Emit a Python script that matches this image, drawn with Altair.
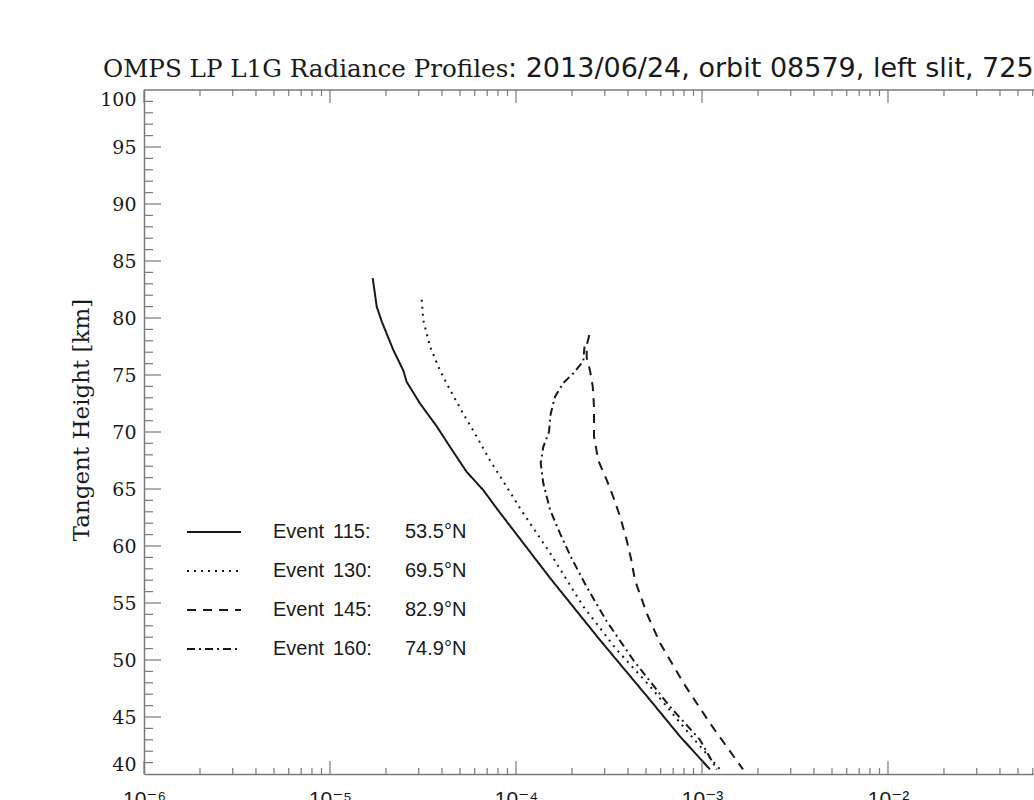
import altair as alt
import pandas as pd

# ---------------- data ----------------
ev115_rad = [1.697e-5, 1.783e-5, 1.897e-5, 2.189e-5, 2.477e-5, 2.584e-5, 3.048e-5, 3.747e-5,
             4.417e-5, 5.430e-5, 6.672e-5, 7.873e-5, 1.523e-4, 2.829e-4, 5.253e-4, 7.614e-4, 1.104e-3]
ev115_h = [83.5, 81.0, 79.7, 77.2, 75.4, 74.4, 72.5, 70.5,
           68.7, 66.5, 64.9, 63.3, 57.2, 51.75, 46.5, 43.3, 40.4]

ev130_rad = [3.112e-5, 3.174e-5, 3.448e-5, 3.903e-5, 4.417e-5, 5.208e-5, 6.147e-5, 7.248e-5,
             8.913e-5, 1.051e-4, 1.523e-4, 2.300e-4, 3.479e-4, 5.253e-4, 7.933e-4, 1.250e-3]
ev130_h = [81.6, 79.8, 77.5, 75.4, 73.7, 71.6, 69.6, 67.5,
           65.2, 63.3, 59.4, 54.7, 50.9, 47.7, 44.15, 40.4]

ev145_rad = [2.478e-4, 2.400e-4, 2.400e-4, 2.499e-4, 2.585e-4, 2.627e-4, 2.627e-4, 2.770e-4,
             3.073e-4, 3.335e-4, 3.624e-4, 3.937e-4, 4.152e-4, 4.363e-4, 5.043e-4, 5.946e-4,
             7.933e-4, 1.104e-3, 1.661e-3]
ev145_h = [78.5, 77.6, 76.5, 75.4, 74.0, 72.2, 69.6, 67.5,
           65.8, 64.3, 62.6, 60.5, 58.9, 57.0, 54.1, 51.5,
           48.0, 44.45, 40.4]

ev160_rad = [2.335e-4, 2.300e-4, 2.033e-4, 1.796e-4, 1.621e-4, 1.537e-4, 1.504e-4, 1.402e-4,
             1.358e-4, 1.402e-4, 1.523e-4, 1.724e-4, 1.993e-4, 2.400e-4, 3.073e-4, 4.272e-4,
             6.730e-4, 9.754e-4, 1.200e-3]
ev160_h = [77.5, 76.2, 75.15, 74.3, 73.1, 71.6, 70.0, 68.7,
           67.25, 65.5, 63.2, 61.1, 58.9, 56.4, 53.4, 50.0,
           45.9, 43.0, 40.4]

events = ["Event 115", "Event 130", "Event 145", "Event 160"]
event_nums = ["115:", "130:", "145:", "160:"]
event_lats = ["53.5°N", "69.5°N", "82.9°N", "74.9°N"]
dash_styles = [[1, 0], [2, 5], [9, 7], [8, 4, 2, 4]]

title_serif = "OMPS LP L1G Radiance Profiles"
title_sans = ": 2013/06/24, orbit 08579, left slit, 725 nm"
y_title = "Tangent Height [km]"

x_major = [1e-6, 1e-5, 1e-4, 1e-3, 1e-2]
x_labels = ["10⁻⁶", "10⁻⁵", "10⁻⁴", "10⁻³", "10⁻²"]
y_major = [40, 45, 50, 55, 60, 65, 70, 75, 80, 85, 90, 95, 100]

# ---------------- layout ----------------
W, H = 890, 684
XMIN, XMAX = 1e-6, 10 ** -1.215
GRAY = "#7a7a7a"
INK = "#1a1a1a"

x_minor = [m * 10.0 ** k for k in range(-6, -1) for m in range(2, 10) if m * 10.0 ** k <= XMAX]
y_minor = [v for v in range(41, 100) if v % 5 != 0]
y_major_ticks = [v for v in y_major if 40 < v < 100]

rows = []
for name, r, h in zip(events, [ev115_rad, ev130_rad, ev145_rad, ev160_rad],
                      [ev115_h, ev130_h, ev145_h, ev160_h]):
    for i, (a, b) in enumerate(zip(r, h)):
        rows.append({"event": name, "rad": a, "h": b, "i": i})
df = pd.DataFrame(rows)

xscale = alt.Scale(type="log", domain=[XMIN, XMAX], nice=False)
yscale = alt.Scale(domain=[40, 100], nice=False, zero=False)

label_expr = " : ".join(
    f"datum.value < {v * 3:g} ? '{lab}'" for v, lab in zip(x_major[:-1], x_labels[:-1])
) + f" : '{x_labels[-1]}'"

x_axis = alt.Axis(values=x_major, labelExpr=label_expr, ticks=False, grid=False,
                  domainColor=GRAY, domainWidth=1.5, labelFont="Liberation Sans, DejaVu Sans",
                  labelFontSize=21, labelColor=INK, labelPadding=14, title=None,
                  labelFlush=False, labelOverlap=False)
y_axis = alt.Axis(values=y_major, ticks=False, grid=False, domainColor=GRAY, domainWidth=1.5,
                  labelFont="DejaVu Serif", labelFontSize=19, labelColor=INK, labelPadding=8,
                  title=None, labelFlush=True, labelOverlap=False)

lines = alt.Chart(df).mark_line(strokeWidth=2, color=INK, clip=True).encode(
    x=alt.X("rad:Q", scale=xscale, axis=x_axis),
    y=alt.Y("h:Q", scale=yscale, axis=y_axis),
    strokeDash=alt.StrokeDash("event:N", scale=alt.Scale(domain=events, range=dash_styles), legend=None),
    detail="event:N",
    order="i:Q",
)

def xticks(vals, y0, y1):
    return alt.Chart(pd.DataFrame({"v": vals})).mark_rule(color=GRAY, strokeWidth=1.2).encode(
        x=alt.X("v:Q", scale=xscale, axis=x_axis), y=alt.value(y0), y2=alt.value(y1))

def yticks(vals, length):
    return alt.Chart(pd.DataFrame({"v": vals})).mark_rule(color=GRAY, strokeWidth=1.2).encode(
        y=alt.Y("v:Q", scale=yscale, axis=y_axis), x=alt.value(0), x2=alt.value(length))

ticks = [
    xticks(x_major, H, H - 13), xticks(x_minor, H, H - 6),
    xticks(x_major, 0, 13), xticks(x_minor, 0, 6),
    yticks(y_major_ticks, 17), yticks(y_minor, 9),
]

top_border = alt.Chart(pd.DataFrame({"a": [0]})).mark_rule(color=GRAY, strokeWidth=1.5).encode(
    x=alt.value(0), x2=alt.value(W), y=alt.value(0))

def text_layer(txt, x, y, font, size, align="left", baseline="alphabetic", angle=0):
    kw = dict(font=font, fontSize=size, align=align, baseline=baseline, color=INK)
    if angle:
        kw["angle"] = angle
    return alt.Chart(pd.DataFrame({"t": [txt]})).mark_text(**kw).encode(
        text="t:N", x=alt.value(x), y=alt.value(y))

texts = [
    text_layer(title_serif, -41, -13, "DejaVu Serif", 24.6),
    text_layer(title_sans, 364, -13, "DejaVu Sans", 27),
    text_layer(y_title, -62, 330, "DejaVu Serif", 23, align="center", baseline="middle", angle=270),
]

legend = []
row_y = [442, 481, 520, 559]
for k in range(4):
    legend.append(
        alt.Chart(pd.DataFrame({"a": [0]})).mark_rule(color=INK, strokeWidth=2,
                                                      strokeDash=dash_styles[k]).encode(
            x=alt.value(43), x2=alt.value(97), y=alt.value(row_y[k])))
    legend.append(text_layer("Event", 129, row_y[k], "Liberation Sans", 20, baseline="middle"))
    legend.append(text_layer(event_nums[k], 189, row_y[k], "Liberation Sans", 20, baseline="middle"))
    legend.append(text_layer(event_lats[k], 261, row_y[k], "Liberation Sans", 20, baseline="middle"))

chart = alt.layer(lines, *ticks, top_border, *texts, *legend).properties(
    width=W, height=H,
    autosize=alt.AutoSizeParams(type="none"),
    padding={"left": 144, "top": 90, "right": 0, "bottom": 26},
    background="white",
).configure_view(stroke=None)

chart.save("out.html", embed_options={"renderer": "svg", "actions": False})
